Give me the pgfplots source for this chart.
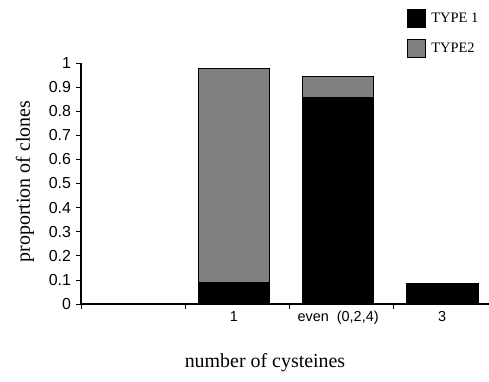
\documentclass[border=0pt]{standalone}
\usepackage{pgfplots}
\pgfplotsset{compat=1.18}
\usepackage{fontspec}
\setmainfont{Liberation Serif}
\newfontfamily\hv{Liberation Sans}
\begin{document}
\begin{tikzpicture}
\useasboundingbox (0,0) rectangle (489bp,382bp);
\begin{axis}[
  at={(81bp,78bp)}, anchor=south west,
  scale only axis, width=408bp, height=241bp,
  xmin=0, xmax=3.92, ymin=0, ymax=1,
  clip=false,
  axis x line=bottom, axis y line=left,
  axis line style={-, line width=1.3pt},
  ybar stacked, bar width=0.69,
  xtick={0,1,2,3}, xticklabels={},
  extra x ticks={1.47,2.47,3.47},
  extra x tick labels={1,{even\ \ (0,2,4)},3},
  extra x tick style={major tick length=0pt, ticklabel style={yshift=-4bp}},
  ytick={0,0.1,...,1.01},
  yticklabel style={/pgf/number format/fixed, /pgf/number format/precision=1,
    font=\hv\fontsize{16}{16}\selectfont, xshift=-1.5bp},
  /pgf/number format/assume math mode=true,
  tick style={black, line width=0.8pt},
  major tick length=5bp,
  tick align=outside,
  xticklabel style={font=\hv\fontsize{14.5}{14.5}\selectfont},
  xlabel={number of cysteines},
  ylabel={proportion of clones},
  label style={font=\fontsize{20}{20}\selectfont},
  xlabel style={at={(axis description cs:0.451,-0.245)}, anchor=center},
  ylabel style={at={(axis description cs:-0.137,0.508)}, anchor=center, rotate=0},
  legend style={draw=none, at={(axis description cs:0.792,1.235)}, anchor=north west,
    font=\fontsize{14.5}{14.5}\selectfont, row sep=11bp, fill=none},
  legend image code/.code={\draw[#1, line width=1pt] (0bp,-9bp) rectangle (18bp,9bp); \path (21bp,0bp);},
  legend cell align=left,
]
\addplot[fill=black, draw=black, line width=1pt] coordinates {(0.47,0) (1.47,0.088) (2.47,0.855) (3.47,0.086)};
\addlegendentry{TYPE 1}
\addplot[fill=gray, draw=black, line width=1pt] coordinates {(0.47,0) (1.47,0.888) (2.47,0.087) (3.47,0)};
\addlegendentry{TYPE2}
\end{axis}
\end{tikzpicture}
\end{document}
